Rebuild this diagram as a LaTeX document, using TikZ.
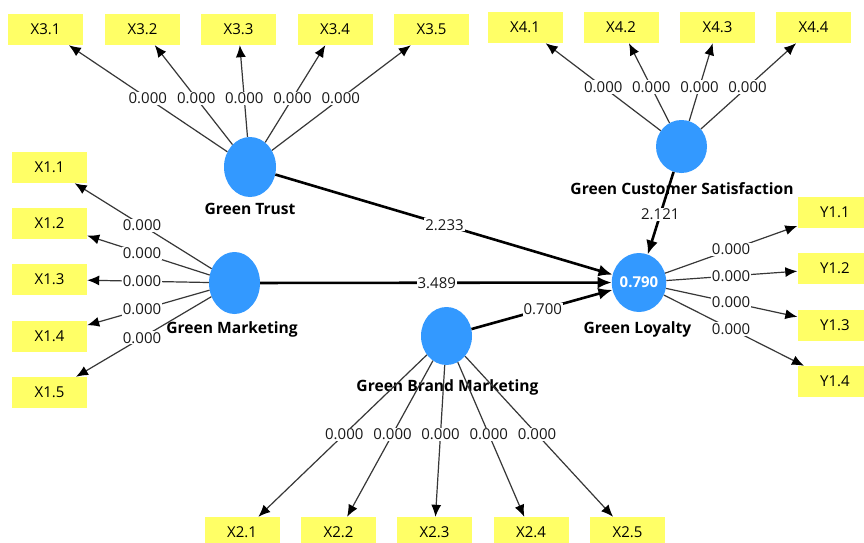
\documentclass[tikz,border=0pt]{standalone}
\usepackage{fontspec}
\setmainfont{Open Sans}
\usetikzlibrary{shapes.geometric,arrows.meta}
\definecolor{boxyellow}{RGB}{255,255,102}
\definecolor{lvblue}{RGB}{51,153,255}
\definecolor{loadgray}{RGB}{55,55,55}
\tikzset{
  ind/.style={fill=boxyellow, minimum width=75pt, minimum height=31pt, inner sep=0pt,
    font=\fontsize{15}{17}\selectfont},
  lv/.style={ellipse, fill=lvblue, inner sep=0pt},
  lvname/.style={font=\fontsize{15.6}{17}\selectfont\bfseries, inner sep=0pt},
  load/.style={draw=loadgray, line width=1.2pt, -{Latex[length=12pt,width=10pt,color=black]}},
  structarrow/.style={draw=black, line width=2.6pt, -{Latex[length=14pt,width=12pt]}},
  val/.style={fill=white, inner sep=1pt, text=black!90, font=\fontsize{15}{17}\selectfont},
}
\begin{document}
\begin{tikzpicture}[x=1pt,y=-1pt]
\clip (0,0) rectangle (864,543);
\fill[white] (0,0) rectangle (864,543);
% latent variables
\node[lv, minimum width=52pt, minimum height=60pt] (GT) at (250,167) {};
\node[lv, minimum width=51pt, minimum height=62pt] (GM) at (234.5,283) {};
\node[lv, minimum width=51pt, minimum height=53pt] (GCS) at (681.5,146.5) {};
\node[lv, minimum width=44pt, minimum height=59pt, text=white, font=\fontsize{15}{17}\selectfont\bfseries] (GL) at (639,282.5) {0.790};
\node[lv, minimum width=51pt, minimum height=58pt] (GBM) at (446.5,336) {};
% latent names
\node[lvname] (nGT) at (250,209) {Green Trust};
\node[lvname] (nGM) at (232,329) {Green Marketing};
\node[lvname] (nGCS) at (682,189) {Green Customer Satisfaction};
\node[lvname] (nGL) at (637.5,329) {Green Loyalty};
\node[lvname] (nGBM) at (447.5,387) {Green Brand Marketing};
% indicators
\foreach \i/\x in {1/45.5,2/142.5,3/238.5,4/335,5/431.5}
  \node[ind] (X3\i) at (\x,29.5) {X3.\i};
\foreach \i/\x in {1/525,2/621,3/717.5,4/813.5}
  \node[ind] (X4\i) at (\x,27.5) {X4.\i};
\foreach \i/\y in {1/167.5,2/223.5,3/279.5,4/336,5/392.5}
  \node[ind] (X1\i) at (49.5,\y) {X1.\i};
\foreach \i/\y in {1/212.5,2/268.5,3/325,4/381.5}
  \node[ind] (Y1\i) at (835,\y) {Y1.\i};
\foreach \i/\x in {1/242,2/338.5,3/434.5,4/531,5/627.5}
  \node[ind] (X2\i) at (\x,532.5) {X2.\i};
% loadings
\foreach \i in {1,...,5} {
  \draw[load] (GT) -- (X3\i);
  \draw[load] (GM) -- (X1\i);
  \draw[load] (GBM) -- (X2\i);
}
\foreach \i in {1,...,4} {
  \draw[load] (GCS) -- (X4\i);
  \draw[load] (GL) -- (Y1\i);
}
% structural paths
\draw[structarrow] (GT) -- (GL);
\draw[structarrow] (GM) -- (GL);
\draw[structarrow] (GBM) -- (GL);
\draw[structarrow] (GCS) -- (GL);
% labels
\foreach \i in {1,...,5} {
  \path (GT.center) -- node[val]{0.000} (X3\i.center);
  \path (GM.center) -- node[val]{0.000} (X1\i.center);
  \path (GBM.center) -- node[val]{0.000} (X2\i.center);
}
\foreach \i in {1,...,4} {
  \path (GCS.center) -- node[val]{0.000} (X4\i.center);
  \path (GL.center) -- node[val, pos=0.47]{0.000} (Y1\i.center);
}
\path (GT.center) -- node[val]{2.233} (GL.center);
\path (GM.center) -- node[val]{3.489} (GL.center);
\path (GBM.center) -- node[val]{0.700} (GL.center);
\path (GCS.center) -- node[val]{2.121} (GL.center);
\end{tikzpicture}
\end{document}
